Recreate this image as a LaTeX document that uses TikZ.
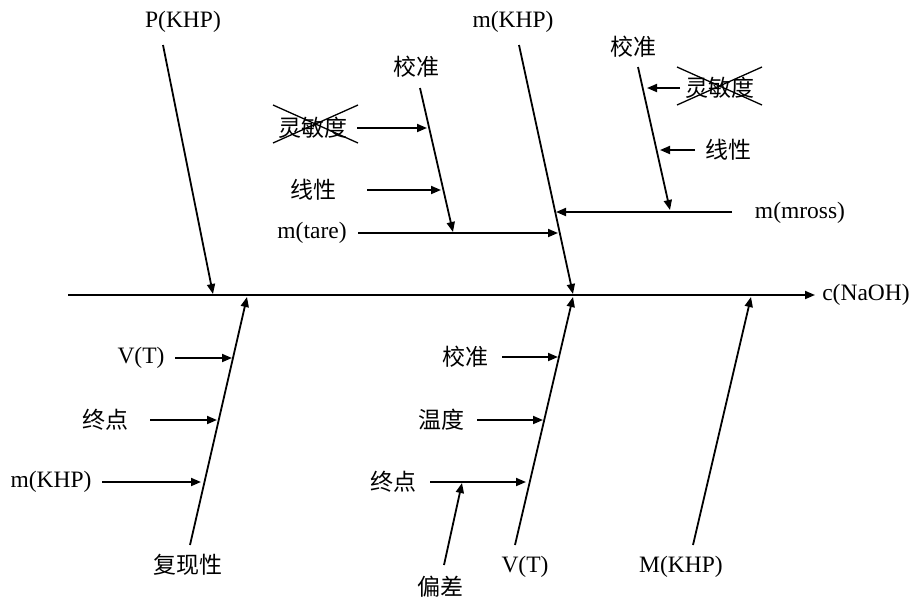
\documentclass[tikz,border=0pt]{standalone}
\usepackage{fontspec}
\setmainfont{Liberation Serif}
\newfontfamily\cjk{Noto Sans CJK SC}
\usetikzlibrary{arrows.meta}
\tikzset{
  lbl/.style={inner sep=0pt, font=\fontsize{23.5}{26}\selectfont},
  zh/.style={inner sep=0pt, font=\fontsize{23}{26}\selectfont\cjk},
  ln/.style={line width=1.8pt, -{Triangle[length=10pt,width=8pt]}},
  cross/.style={line width=1.3pt},
}
\begin{document}
\begin{tikzpicture}[x=1pt,y=-1pt]
\useasboundingbox (0,0) rectangle (919,598);
% ---- text nodes
\node[lbl] (pkhp) at (183,22) {P(KHP)};
\node[lbl] (mkhpT) at (513,22) {m(KHP)};
\node[zh] (jz1) at (416,67) {校准};
\node[zh] (lmd1) at (313,128) {灵敏度};
\node[zh] (xx1) at (313,190) {线性};
\node[lbl] (tare) at (312,233) {m(tare)};
\node[zh] (jz2) at (633,47) {校准};
\node[zh] (lmd2) at (720,88) {灵敏度};
\node[zh] (xx2) at (728,150) {线性};
\node[lbl] (mross) at (800,213) {m(mross)};
\node[lbl] (naoh) at (866,295) {c(NaOH)};
\node[lbl] (vt1) at (141,358) {V(T)};
\node[zh] (zd1) at (105,420) {终点};
\node[lbl] (mkhpB) at (51,482) {m(KHP)};
\node[zh] (fxx) at (188,565) {复现性};
\node[zh] (jz3) at (465,357) {校准};
\node[zh] (wd) at (441,420) {温度};
\node[zh] (zd2) at (393,482) {终点};
\node[zh] (pc) at (440,587) {偏差};
\node[lbl] (vt2) at (525,567) {V(T)};
\node[lbl] (Mkhp) at (681,567) {M(KHP)};
% ---- coordinates
\coordinate (s0) at (68,295);
\coordinate (s1) at (815,295);
\coordinate (pA) at (163,45);   \coordinate (pB) at (213,294);
\coordinate (mA) at (519,45);   \coordinate (mB) at (573,294);
\coordinate (c1A) at (420,88);  \coordinate (c1B) at (453,232);
\coordinate (c2A) at (638,67);  \coordinate (c2B) at (670,210);
\coordinate (rA) at (732,212);  \coordinate (rB) at (556,212);
\coordinate (tA) at (358,233);  \coordinate (tB) at (558,233);
\coordinate (l1A) at (357,128); \coordinate (l1B) at (427,128);
\coordinate (x1A) at (367,190); \coordinate (x1B) at (441,190);
\coordinate (l2A) at (680,88);  \coordinate (l2B) at (647,88);
\coordinate (x2A) at (695,150); \coordinate (x2B) at (660,150);
\coordinate (bLA) at (190,545); \coordinate (bLB) at (247,297);
\coordinate (v1A) at (175,358); \coordinate (v1B) at (232,358);
\coordinate (z1A) at (150,420); \coordinate (z1B) at (217,420);
\coordinate (k1A) at (102,482); \coordinate (k1B) at (201,482);
\coordinate (bVA) at (515,545); \coordinate (bVB) at (573,297);
\coordinate (j3A) at (502,357); \coordinate (j3B) at (558,357);
\coordinate (wA) at (477,420);  \coordinate (wB) at (543,420);
\coordinate (z2A) at (430,482); \coordinate (z2B) at (526,482);
\coordinate (pcA) at (444,565); \coordinate (pcB) at (462,483);
\coordinate (bMA) at (693,545); \coordinate (bMB) at (751,297);
% ---- connectors
\draw[ln] (s0) -- (s1);
\draw[ln] (pA) -- (pB);
\draw[ln] (mA) -- (mB);
\draw[ln] (c1A) -- (c1B);
\draw[ln] (c2A) -- (c2B);
\draw[ln] (rA) -- (rB);
\draw[ln] (tA) -- (tB);
\draw[ln] (l1A) -- (l1B);
\draw[ln] (x1A) -- (x1B);
\draw[ln] (l2A) -- (l2B);
\draw[ln] (x2A) -- (x2B);
\draw[ln] (bLA) -- (bLB);
\draw[ln] (v1A) -- (v1B);
\draw[ln] (z1A) -- (z1B);
\draw[ln] (k1A) -- (k1B);
\draw[ln] (bVA) -- (bVB);
\draw[ln] (j3A) -- (j3B);
\draw[ln] (wA) -- (wB);
\draw[ln] (z2A) -- (z2B);
\draw[ln] (pcA) -- (pcB);
\draw[ln] (bMA) -- (bMB);
% ---- crossed out labels
\coordinate (x1a) at (273,105); \coordinate (x1b) at (358,143);
\coordinate (x1c) at (273,143); \coordinate (x1d) at (358,105);
\draw[cross] (x1a) -- (x1b);
\draw[cross] (x1c) -- (x1d);
\coordinate (x2a) at (677,67); \coordinate (x2b) at (762,105);
\coordinate (x2c) at (677,105); \coordinate (x2d) at (762,67);
\draw[cross] (x2a) -- (x2b);
\draw[cross] (x2c) -- (x2d);
\end{tikzpicture}
\end{document}
